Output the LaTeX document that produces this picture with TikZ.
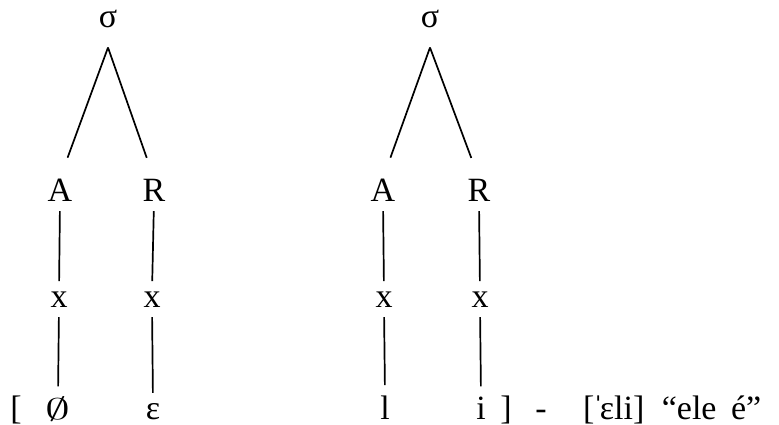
\documentclass[tikz,border=0pt]{standalone}
\usepackage{fontspec}
\setmainfont{Liberation Serif}
\usetikzlibrary{positioning}

\begin{document}
\begin{tikzpicture}[
    x=1pt, y=-1pt,
    seg/.style={inner sep=0pt, anchor=base, font=\fontsize{34}{40}\selectfont},
    leg/.style={line width=1.7pt, shorten >=22pt},
    stem/.style={line width=1.7pt, shorten <=10pt, shorten >=10pt}
]
\useasboundingbox (0,0) rectangle (779,425);

% first syllable
\node[seg] (sig1) at (108,28) {σ};
\node[seg] (onset1) at (60,201) {A};
\node[seg] (rime1) at (154,201) {R};
\node[seg] (xo1) at (59,307) {x};
\node[seg] (xr1) at (152,307) {x};
\node[seg] (brL) at (16,419) {[};
\node[seg] (null) at (58,419) {\scalebox{2.0}[1.2]{$\emptyset$}};
\node[seg] (eps) at (153,419) {ε};
\coordinate[below=19pt of sig1] (apex1);

% second syllable
\node[seg] (sig2) at (430,28) {σ};
\node[seg] (onset2) at (383,201) {A};
\node[seg] (rime2) at (479,201) {R};
\node[seg] (xo2) at (384,307) {x};
\node[seg] (xr2) at (480,307) {x};
\node[seg] (lat) at (385,419) {l};
\node[seg] (hi) at (481,419) {i};
\node[seg] (brR) at (506,419) {]};
\node[seg] (dash) at (541,419) {-};
\node[seg, anchor=base west] (gloss) at (583,419) {[\kern-2ptˈ\kern-4ptεli]\hspace{9pt} “ele\hspace{6pt} é”};
\coordinate[below=19pt of sig2] (apex2);

\draw[leg] (apex1) -- (onset1.north);
\draw[leg] (apex1) -- (rime1.north);
\draw[leg] (apex2) -- (onset2.north);
\draw[leg] (apex2) -- (rime2.north);

\draw[stem] (onset1.south) -- (xo1.north);
\draw[stem] (rime1.south) -- (xr1.north);
\draw[stem] (xo1.south) -- (null.north);
\draw[stem] (xr1.south) -- (eps.north);
\draw[stem] (onset2.south) -- (xo2.north);
\draw[stem] (rime2.south) -- (xr2.north);
\draw[stem] (xo2.south) -- (lat.north);
\draw[stem] (xr2.south) -- (hi.north);
\end{tikzpicture}
\end{document}
